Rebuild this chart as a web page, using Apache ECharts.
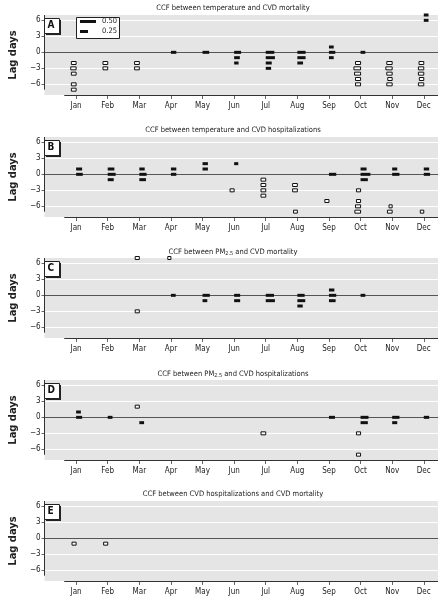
<!DOCTYPE html>
<html><head><meta charset="utf-8">
<script src="https://cdn.jsdelivr.net/npm/echarts@6/dist/echarts.min.js"></script>
<style>html,body{margin:0;padding:0;background:#fff}#c{width:445px;height:602px}</style>
</head><body><div id="c"></div>
<script>
const months = ['Jan','Feb','Mar','Apr','May','Jun','Jul','Aug','Sep','Oct','Nov','Dec'];
const yTicks = [-6,-3,0,3,6];
const panelLetters = ['A','B','C','D','E'];
const panelTitles = [
  'CCF between temperature and CVD mortality',
  'CCF between temperature and CVD hospitalizations',
  'CCF between PM{sub|2.5} and CVD mortality',
  'CCF between PM{sub|2.5} and CVD hospitalizations',
  'CCF between CVD hospitalizations and CVD mortality'
];
// [month index, lag (days), CCF]
const panelA = [
  [0,-2,-0.15],[0,-3,-0.17],[0,-4,-0.15],[0,-6,-0.15],[0,-7,-0.15],
  [1,-2,-0.15],[1,-3,-0.15],
  [2,-2,-0.15],[2,-3,-0.15],
  [3,0,0.17],
  [4,0,0.21],
  [5,0,0.22],[5,-1,0.18],[5,-2,0.14],
  [6,0,0.27],[6,-1,0.29],[6,-2,0.19],[6,-3,0.17],
  [7,0,0.26],[7,-1,0.26],[7,-2,0.18],
  [8,1,0.15],[8,0,0.2],[8,-1,0.15],
  [9,0,0.15],[9,-2,-0.16],[9,-3,-0.21],[9,-4,-0.19],[9,-5,-0.16],[9,-6,-0.16],
  [10,-2,-0.17],[10,-3,-0.2],[10,-4,-0.17],[10,-5,-0.14],[10,-6,-0.17],
  [11,7,0.15],[11,6,0.15],[11,-2,-0.15],[11,-3,-0.17],[11,-4,-0.17],[11,-5,-0.14],[11,-6,-0.17]
];
const panelB = [
  [0,1,0.19],[0,0,0.21],
  [1,1,0.21],[1,0,0.25],[1,-1,0.19],
  [2,1,0.17],[2,0,0.23],[2,-1,0.21],
  [3,1,0.17],[3,0,0.17],
  [4,2,0.17],[4,1,0.17],
  [5,2,0.13],[5,-3,-0.13],
  [6,-1,-0.15],[6,-2,-0.15],[6,-3,-0.15],[6,-4,-0.15],
  [7,-2,-0.15],[7,-3,-0.15],[7,-7,-0.12],
  [8,0,0.23],[8,-5,-0.13],
  [9,1,0.19],[9,0,0.31],[9,-1,0.23],[9,-3,-0.13],[9,-5,-0.13],[9,-6,-0.16],[9,-7,-0.18],
  [10,1,0.16],[10,0,0.23],[10,-6,-0.1],[10,-7,-0.15],
  [11,1,0.17],[11,0,0.2],[11,-7,-0.11]
];
const panelC = [
  [2,7,-0.13],[2,-3,-0.13],
  [3,7,-0.1],[3,0,0.15],
  [4,0,0.23],[4,-1,0.15],
  [5,0,0.19],[5,-1,0.19],
  [6,0,0.26],[6,-1,0.29],
  [7,0,0.23],[7,-1,0.25],[7,-2,0.17],
  [8,1,0.17],[8,0,0.23],[8,-1,0.21],
  [9,0,0.15]
];
const panelD = [
  [0,1,0.15],[0,0,0.19],
  [1,0,0.15],
  [2,2,-0.13],[2,-1,0.15],
  [6,-3,-0.15],
  [8,0,0.19],
  [9,0,0.25],[9,-1,0.23],[9,-3,-0.13],[9,-7,-0.13],
  [10,0,0.23],[10,-1,0.16],
  [11,0,0.17]
];
const panelE = [
  [0,-1,-0.13],[1,-1,-0.13]
];
const panels = [panelA, panelB, panelC, panelD, panelE];
const legendValues = [0.50, 0.25];

const gridTops = [15,137,258,380,501];
const GL = 40, GR = 7, GH = 80;
const XMIN = -1, XMAX = 11.45;
const FONT = '"DejaVu Sans Condensed","Liberation Sans Narrow","Arial Narrow","Roboto Condensed",sans-serif';
const pxPerUnit = (445 - GL - GR) / (XMAX - XMIN);

const grid = [], xAxis = [], yAxis = [], series = [], title = [], graphic = [];
panels.forEach((data, i) => {
  const T = gridTops[i];
  grid.push({left: GL, right: GR, top: T, height: GH, show: true, backgroundColor: '#e5e5e5', borderWidth: 0});
  xAxis.push({type:'value', gridIndex:i, min:XMIN, max:XMAX,
    axisLine:{show:false, onZero:false}, splitLine:{show:false},
    axisTick:{show:true, customValues: months.map((m,k)=>k), length:4, lineStyle:{color:'#666'}},
    axisLabel:{customValues: months.map((m,k)=>k), formatter: v => months[Math.round(v)] || '',
      fontSize:8, fontFamily:FONT, color:'#222', margin:7}
  });
  yAxis.push({type:'value', gridIndex:i, min:-8, max:7,
    axisLine:{show:false, onZero:false}, splitLine:{show:false},
    axisTick:{show:true, customValues: yTicks, length:3, lineStyle:{color:'#666'}},
    axisLabel:{customValues: yTicks, formatter: v => (v<0 ? '\u2212'+(-v) : ''+v), fontSize:8, fontFamily:FONT, color:'#222', margin:4},
    name:'Lag days', nameLocation:'middle', nameGap:21,
    nameTextStyle:{fontSize:11, fontWeight:'bold', fontFamily:FONT, color:'#222'}
  });
  // reference lines
  series.push({type:'line', xAxisIndex:i, yAxisIndex:i, data:[], silent:true,
    markLine:{silent:true, symbol:['none','none'], animation:false, label:{show:false},
      data:[
        ...[6,3,-3,-6].map(v => ({yAxis:v, lineStyle:{color:'#ffffff', width:1, type:'solid'}})),
        {yAxis:0, lineStyle:{color:'#555', width:1, type:'solid'}},
        [{coord:[-0.375,-8], lineStyle:{color:'#333', width:1, type:'solid'}},{coord:[XMAX,-8]}],
        [{coord:[XMIN,7], lineStyle:{color:'#333', width:1, type:'solid'}},{coord:[XMIN,-7]}]
      ]}
  });
  series.push({type:'custom', xAxisIndex:i, yAxisIndex:i, z:10, data:data, encode:{x:0, y:1},
    renderItem:(params, api) => {
      const m = api.value(0), lag = api.value(1), r = api.value(2);
      const p0 = api.coord([m, lag]), p1 = api.coord([m + r, lag]);
      const h = 3;
      const x = Math.min(p0[0], p1[0]), w = Math.abs(p1[0]-p0[0]);
      return {type:'rect', shape:{x:x, y:p0[1]-h/2, width:w, height:h},
        style: r > 0 ? {fill:'#111'} : {fill:'#fff', stroke:'#111', lineWidth:1}};
    }
  });
  title.push({text: panelTitles[i], left:233, top:T-11, textAlign:'center', padding:0,
    textStyle:{fontSize:7.5, fontWeight:'normal', fontFamily:FONT, color:'#222',
      rich:{sub:{fontSize:5.5, verticalAlign:'bottom', padding:[4,0,0,0], fontFamily:FONT, color:'#222'}}}});
  // panel letter box
  graphic.push({type:'rect', left:GL+6, top:T+5, shape:{width:15, height:15}, style:{fill:'#222'}, z:20});
  graphic.push({type:'rect', left:GL+4, top:T+3, shape:{width:15, height:15}, style:{fill:'#fff', stroke:'#222', lineWidth:1}, z:21});
  graphic.push({type:'text', left:GL+7.5, top:T+5.5, style:{text:panelLetters[i], fontSize:10, fontWeight:'bold', fontFamily:FONT, fill:'#111'}, z:22});
});
// legend box in panel A
const LT = gridTops[0];
graphic.push({type:'rect', left:77, top:LT+3, shape:{width:43, height:21}, style:{fill:'#bbb'}, z:20});
graphic.push({type:'rect', left:76, top:LT+2, shape:{width:43, height:21}, style:{fill:'#fff', stroke:'#222', lineWidth:1}, z:21});
legendValues.forEach((v, k) => {
  const y = LT + 6.5 + k*10;
  graphic.push({type:'rect', left:80, top:y-1.5, shape:{width:v*pxPerUnit, height:3}, style:{fill:'#111'}, z:22});
  graphic.push({type:'text', left:102, top:y-4.5, style:{text:v.toFixed(2), fontSize:7.5, fontFamily:FONT, fill:'#222'}, z:22});
});

const chart = echarts.init(document.getElementById('c'), null, {renderer:'canvas'});
chart.setOption({animation:false, backgroundColor:'#fff', title, grid, xAxis, yAxis, series, graphic});
</script></body></html>
